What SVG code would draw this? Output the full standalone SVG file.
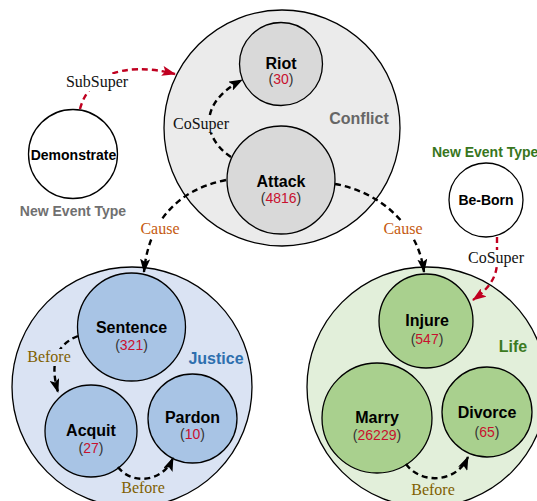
<svg xmlns="http://www.w3.org/2000/svg" width="537" height="501" viewBox="0 0 537 501">
<style>
.outer{stroke:#000;stroke-width:1.3}
.inner{stroke:#000;stroke-width:1.3}
.name{font-family:"Liberation Sans",Arial,sans-serif;font-weight:bold;font-size:16px;fill:#000;text-anchor:middle}
.num{font-family:"Liberation Sans",Arial,sans-serif;font-size:14px;fill:#333;text-anchor:middle}
.num tspan.n{fill:#c8102e}
.grp{font-family:"Liberation Sans",Arial,sans-serif;font-weight:bold;font-size:16px;text-anchor:middle}
.lbl{font-family:"Liberation Serif","Times New Roman",serif;font-size:16px;text-anchor:middle}
.e{fill:none;stroke:#000;stroke-width:2.4;stroke-dasharray:6 4}
.er{fill:none;stroke:#c00020;stroke-width:2.4;stroke-dasharray:6 4}
</style>
<defs>
<marker id="ab" viewBox="0 0 14 10" refX="13" refY="5" markerWidth="14" markerHeight="10" markerUnits="userSpaceOnUse" orient="auto"><path d="M0,0 L14,5 L0,10 L3,5 z" fill="#000"/></marker>
<marker id="ar" viewBox="0 0 14 10" refX="13" refY="5" markerWidth="14" markerHeight="10" markerUnits="userSpaceOnUse" orient="auto"><path d="M0,0 L14,5 L0,10 L3,5 z" fill="#c00020"/></marker>
</defs>
<rect width="537" height="501" fill="#fff"/>

<g id="conflict">
<circle class="outer" cx="282" cy="128" r="118" fill="#ebebeb"/>
<text class="grp" x="359" y="124" fill="#666">Conflict</text>
</g>
<g id="justice">
<circle class="outer" cx="132" cy="387" r="120" fill="#dae3f3"/>
<text class="grp" x="216" y="364" fill="#2e6fae">Justice</text>
</g>
<g id="life">
<circle class="outer" cx="427" cy="387" r="120" fill="#e2efda"/>
<text class="grp" x="513" y="352" fill="#3b7a1f">Life</text>
</g>

<g id="riot">
<circle class="inner" cx="281" cy="64" r="41.5" fill="#d9d9d9"/>
<text class="name" x="281" y="68.5">Riot</text>
<text class="num" x="281" y="84">(<tspan class="n">30</tspan>)</text>
</g>
<g id="attack">
<circle class="inner" cx="281" cy="180" r="54" fill="#d9d9d9"/>
<text class="name" x="281" y="187">Attack</text>
<text class="num" x="281" y="203">(<tspan class="n">4816</tspan>)</text>
</g>
<g id="demonstrate">
<circle class="inner" cx="73" cy="154" r="44.5" fill="#fff"/>
<text class="name" x="73.5" y="160" style="font-size:14px">Demonstrate</text>
<text class="grp" x="73" y="216" fill="#707070" style="font-size:14px">New Event Type</text>
</g>
<g id="be-born">
<circle class="inner" cx="486" cy="200" r="37" fill="#fff"/>
<text class="name" x="486" y="205" style="font-size:14px">Be-Born</text>
<text class="grp" x="432" y="157" fill="#38761d" style="font-size:14px;text-anchor:start">New Event Type</text>
</g>
<g id="sentence">
<circle class="inner" cx="131.5" cy="327" r="54" fill="#a8c4e5"/>
<text class="name" x="131.5" y="333">Sentence</text>
<text class="num" x="131.5" y="350">(<tspan class="n">321</tspan>)</text>
</g>
<g id="acquit">
<circle class="inner" cx="91" cy="431" r="46" fill="#a8c4e5"/>
<text class="name" x="91" y="436">Acquit</text>
<text class="num" x="91" y="453">(<tspan class="n">27</tspan>)</text>
</g>
<g id="pardon">
<circle class="inner" cx="192.5" cy="418.5" r="44.5" fill="#a8c4e5"/>
<text class="name" x="192.5" y="423">Pardon</text>
<text class="num" x="192.5" y="439">(<tspan class="n">10</tspan>)</text>
</g>
<g id="injure">
<circle class="inner" cx="426" cy="321" r="47" fill="#a9d08e"/>
<text class="name" x="427" y="326">Injure</text>
<text class="num" x="427" y="344">(<tspan class="n">547</tspan>)</text>
</g>
<g id="marry">
<circle class="inner" cx="377" cy="418" r="55" fill="#a9d08e"/>
<text class="name" x="377" y="423">Marry</text>
<text class="num" x="377" y="440">(<tspan class="n">26229</tspan>)</text>
</g>
<g id="divorce">
<circle class="inner" cx="487" cy="412" r="45" fill="#a9d08e"/>
<text class="name" x="487" y="418">Divorce</text>
<text class="num" x="487" y="437">(<tspan class="n">65</tspan>)</text>
</g>

<g id="connectors">
<path class="er" d="M80,109 C88,78 120,60 175,74" marker-end="url(#ar)"/>
<path class="e" d="M231,157 C205,140 195,105 242,80" marker-end="url(#ab)"/>
<path class="e" d="M226,180 C175,190 148,225 144,272" marker-end="url(#ab)"/>
<path class="e" d="M335,184 C380,192 418,225 424,272" marker-end="url(#ab)"/>
<path class="er" d="M497,237 L497,262 C497,276 490,288 473,300" marker-end="url(#ar)"/>
<path class="e" d="M78,336 C55,345 50,365 58,392" marker-end="url(#ab)"/>
<path class="e" d="M118,467 C130,484 162,484 173,458" marker-end="url(#ab)"/>
<path class="e" d="M406,464 C420,484 456,484 468,457" marker-end="url(#ab)"/>
<rect x="66" y="74" width="62" height="17" fill="#fff"/>
<text class="lbl" x="97" y="87" fill="#111">SubSuper</text>
<rect x="173" y="116" width="56" height="17" fill="#ebebeb"/>
<text class="lbl" x="201" y="129" fill="#111">CoSuper</text>
<rect x="140" y="221" width="40" height="17" fill="#fff"/>
<text class="lbl" x="160" y="234" fill="#c55a11">Cause</text>
<rect x="383" y="221" width="40" height="17" fill="#fff"/>
<text class="lbl" x="403" y="234" fill="#c55a11">Cause</text>
<rect x="468" y="250" width="56" height="17" fill="#fff"/>
<text class="lbl" x="496" y="263" fill="#111">CoSuper</text>
<rect x="27" y="349" width="44" height="17" fill="#dae3f3"/>
<text class="lbl" x="49" y="362" fill="#7f6000">Before</text>
<text class="lbl" x="143" y="493" fill="#7f6000">Before</text>
<text class="lbl" x="433" y="495" fill="#7f6000">Before</text>
</g>
</svg>
